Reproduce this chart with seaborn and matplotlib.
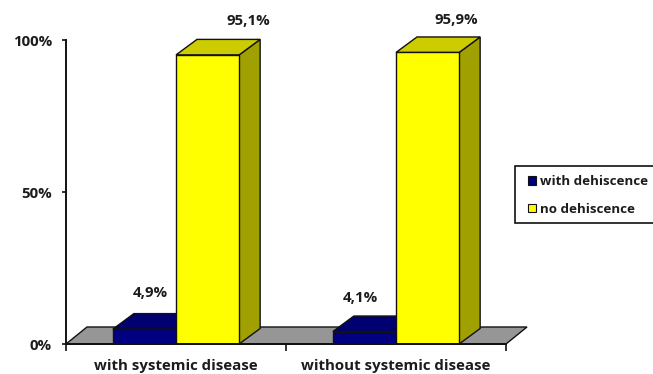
import matplotlib
matplotlib.use("Agg")
import matplotlib.pyplot as plt
from matplotlib.patches import Patch, Polygon, Rectangle
import pandas as pd
import seaborn as sns

categories = ["with systemic disease", "without systemic disease"]
series_names = ["with dehiscence", "no dehiscence"]
with_dehiscence = [4.9, 4.1]
no_dehiscence = [95.1, 95.9]
value_labels = [["4,9%", "4,1%"], ["95,1%", "95,9%"]]
y_ticks = [0, 50, 100]
y_labels = ["0%", "50%", "100%"]

# label offsets from each bar's top right corner (pixels, data units)
label_dx_px = [[-26, -36], [9, -3]]
label_dy = [[11.9, 11.0], [11.15, 10.7]]

W, H = 653, 374
sns.set_theme(style="white")
plt.rcParams["font.family"] = ["Open Sans", "DejaVu Sans"]
plt.rcParams["font.weight"] = "bold"
TXT = "#1c1c1c"
FS = 10.8
LEG_FS = 9.6

df = pd.DataFrame({
    "category": categories * 2,
    "series": [series_names[0]] * 2 + [series_names[1]] * 2,
    "value": with_dehiscence + no_dehiscence,
})

fig = plt.figure(figsize=(W / 100, H / 100), dpi=100, facecolor="white")
ax = fig.add_axes([66 / W, 1 - 344 / H, 440 / W, 304 / H])
front = ["#000080", "#FFFF00"]
tops = ["#000070", "#CCCC00"]
sides = ["#000050", "#A0A000"]

sns.barplot(data=df, x="category", y="value", hue="series", hue_order=series_names,
            palette=front, width=0.574, gap=0, saturation=1, edgecolor="#111111",
            linewidth=1.0, legend=False, ax=ax, zorder=3)
ax.set_xlim(-0.5, 1.5)
ax.set_ylim(0, 100)
ax.set_xlabel("")
ax.set_ylabel("")

# depth of the pseudo-3D box in data units
dx_bar, dy_bar = 21 / 220, 15.5 / 3.04
dx_floor, dy_floor = 21 / 220, 17 / 3.04

# floor
ax.add_patch(Polygon([(-0.5, 0), (-0.5 + dx_floor, dy_floor), (1.5 + dx_floor, dy_floor), (1.5, 0)],
                     closed=True, fc="#969696", ec="#111111", lw=1.0, zorder=1, clip_on=False))

# tops and side faces, built from the bars seaborn drew
for s, cont in enumerate(ax.containers):
    for i, bar in enumerate(cont):
        x0, x1, h = bar.get_x(), bar.get_x() + bar.get_width(), bar.get_height()
        z = 2 + s
        ax.add_patch(Polygon([(x1, 0), (x1 + dx_bar, dy_bar), (x1 + dx_bar, h + dy_bar), (x1, h)],
                             closed=True, fc=sides[s], ec="#111111", lw=1.0, zorder=z, clip_on=False))
        ax.add_patch(Polygon([(x0, h), (x0 + dx_bar, h + dy_bar), (x1 + dx_bar, h + dy_bar), (x1, h)],
                             closed=True, fc=tops[s], ec="#111111", lw=1.0, zorder=z, clip_on=False))
        bar.set_zorder(z + 0.5)
        ax.text(x1 + label_dx_px[s][i] / 220, h + label_dy[s][i],
                value_labels[s][i], ha="center", va="center", fontsize=FS, color=TXT,
                fontweight="bold", zorder=6, clip_on=False)

sns.despine(ax=ax, top=True, right=True)
for sp in ("left", "bottom"):
    ax.spines[sp].set_color("#111111")
    ax.spines[sp].set_linewidth(1.4)
    ax.spines[sp].set_zorder(7)

ax.set_yticks(y_ticks, y_labels)
ax.set_xticks([0, 1], categories)
ax.set_xticks([-0.5, 0.5, 1.5], minor=True)
ax.tick_params(axis="y", left=True, length=3, width=1.2, color="#111111", pad=7,
               labelsize=FS, labelcolor=TXT)
ax.tick_params(axis="x", which="major", bottom=False, length=0, pad=10.5, labelsize=FS, labelcolor=TXT)
ax.tick_params(axis="x", which="minor", bottom=True, length=5, width=1.2, color="#111111")

# legend box runs off the right edge of the picture
fig.add_artist(Rectangle((515 / W, 1 - 223 / H), 150 / W, 57 / H, transform=fig.transFigure,
                         fc="white", ec="#111111", lw=1.2, zorder=4))
handles = [Patch(fc=front[0], ec="#111111", lw=0.8), Patch(fc=front[1], ec="#111111", lw=0.8)]
leg = fig.legend(handles, series_names, loc="upper left",
                 bbox_to_anchor=(528 / W, 1 - 175 / H), bbox_transform=fig.transFigure,
                 fontsize=LEG_FS, frameon=False, handlelength=0.6, handleheight=0.6,
                 handletextpad=0.3, labelspacing=1.12, borderpad=0, borderaxespad=0)
leg.set_zorder(5)
for t in leg.get_texts():
    t.set_color(TXT)

fig.savefig("out.png", dpi=100, facecolor="white")
